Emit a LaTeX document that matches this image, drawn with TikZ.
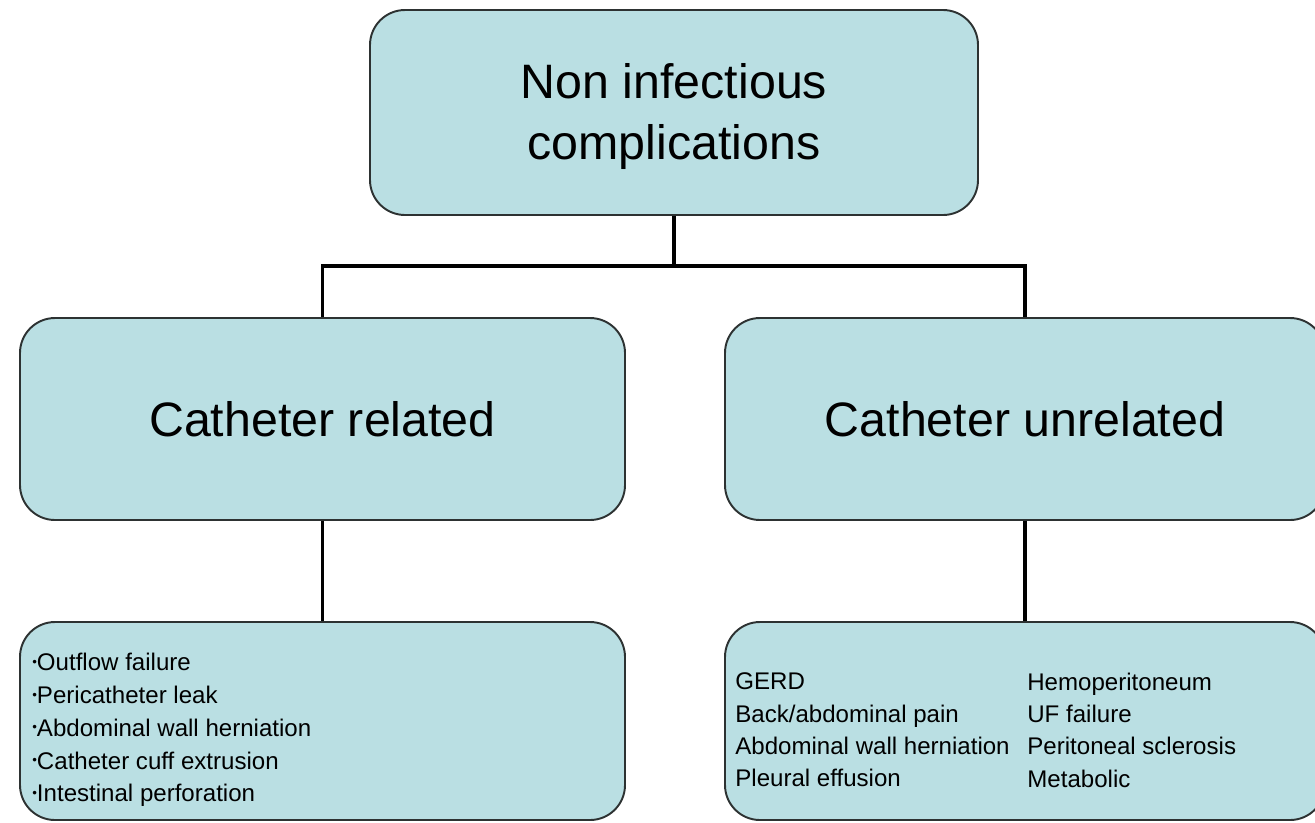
\documentclass[tikz,border=0pt]{standalone}
\usepackage{fontspec}
\setmainfont{Liberation Sans}
\definecolor{boxfill}{RGB}{186,223,227}
\definecolor{boxline}{RGB}{45,50,50}
\newcommand{\dotitem}{\raisebox{0.18em}{\scalebox{0.55}{\textbullet}}}
\tikzset{
  roundbox/.style={draw=boxline, line width=1.1pt, fill=boxfill, rounded corners=0.7cm, inner sep=0pt},
  link/.style={draw=black, line width=1.8pt}
}
\begin{document}
\begin{tikzpicture}
\useasboundingbox (0,0) rectangle (26.3,-16.44);
\clip (0,0) rectangle (26.3,-16.44);

\node[roundbox, minimum width=12.16cm, minimum height=4.1cm] (top) at (13.48,-2.25) {};
\node[align=center, font=\fontsize{27.5}{34.7}\selectfont] (toptext) at (13.48,-2.33) {Non infectious\\complications};

\node[roundbox, minimum width=12.1cm, minimum height=4.04cm,
  font=\fontsize{27.5}{33}\selectfont] (rel) at (6.45,-8.38) {Catheter related};
\node[roundbox, minimum width=12cm, minimum height=4.04cm,
  font=\fontsize{27.5}{33}\selectfont] (unrel) at (20.5,-8.38) {Catheter unrelated};

\node[roundbox, minimum width=12.1cm, minimum height=3.96cm] (relbox) at (6.45,-14.42) {};
\node[roundbox, minimum width=12cm, minimum height=3.96cm] (unrelbox) at (20.5,-14.42) {};

% list texts
\node[anchor=west, align=left, inner sep=0pt, font=\fontsize{13.7}{18.7}\selectfont] (rellist) at (0.64,-14.6)
  {\dotitem Outflow failure\\
   \dotitem Pericatheter leak\\
   \dotitem Abdominal wall herniation\\
   \dotitem Catheter cuff extrusion\\
   \dotitem Intestinal perforation};
\node[anchor=west, align=left, inner sep=0pt, font=\fontsize{13.7}{18.4}\selectfont] (unrellista) at (14.7,-14.6)
  {GERD\\Back/abdominal pain\\Abdominal wall herniation\\Pleural effusion};
\node[anchor=west, align=left, inner sep=0pt, font=\fontsize{13.7}{18.4}\selectfont] (unrellistb) at (20.54,-14.6)
  {Hemoperitoneum\\UF failure\\Peritoneal sclerosis\\Metabolic};

% connectors
\draw[link] (top.south) -- ++(0,-1.0) -| (rel.north);
\draw[link] (top.south) -- ++(0,-1.0) -| (unrel.north);
\draw[link] (rel.south) -- (relbox.north);
\draw[link] (unrel.south) -- (unrelbox.north);

\end{tikzpicture}
\end{document}
